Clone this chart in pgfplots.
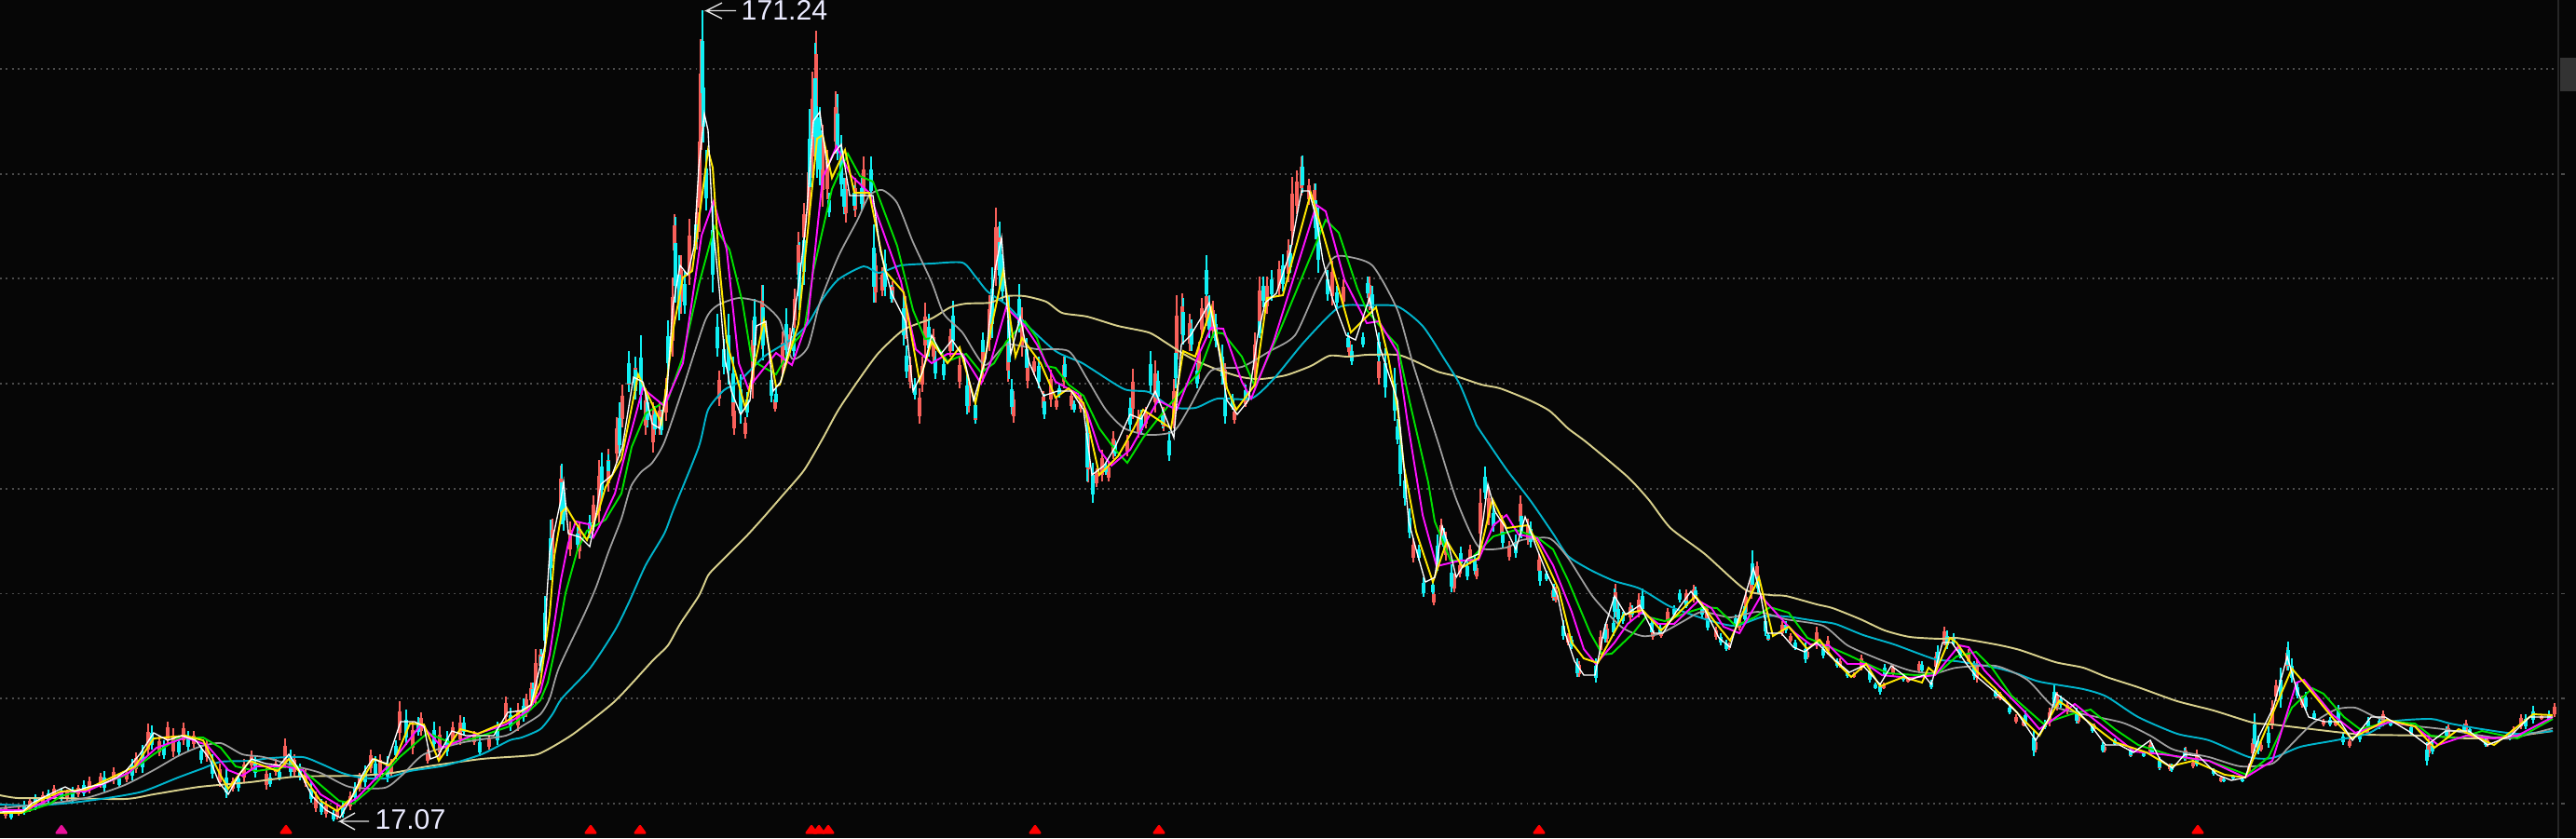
\documentclass[border=0pt]{standalone}
\usepackage{pgfplots}
\usepackage{pgfplotstable}
\usepackage{fontspec}
\setmainfont{Liberation Sans}
\pgfplotsset{compat=1.18}
\definecolor{bgc}{HTML}{060606}
\definecolor{kred}{HTML}{F8605A}
\definecolor{kcy}{HTML}{10F0F4}
\definecolor{mpale}{HTML}{D8D08C}
\definecolor{mteal}{HTML}{00B4CC}
\definecolor{mgray}{HTML}{A0A0A0}
\definecolor{mgreen}{HTML}{00E000}
\definecolor{mmag}{HTML}{FF10FF}
\definecolor{myel}{HTML}{FFE800}
\definecolor{griddot}{HTML}{4C4C4C}
\definecolor{kpink}{HTML}{E8109A}
\pgfplotstableread[row sep=\\]{x t b\\
6 864 879\\20 866 876\\32 856 872\\46 850 866\\58 843 858\\72 848 860\\84 843 856\\96 834 852\\108 830 846\\122 824 842\\136 826 840\\146 808 830\\159 777 812\\171 790 812\\180 775 800\\186 782 813\\197 776 800\\208 785 803\\222 795 818\\236 820 845\\250 835 850\\262 815 840\\270 806 826\\286 825 848\\296 815 833\\306 793 825\\316 810 834\\328 825 845\\339 850 872\\350 860 878\\362 865 880\\376 850 870\\386 830 850\\398 805 830\\408 810 835\\420 815 835\\429 753 795\\443 775 810\\452 765 790\\459 805 820\\472 780 815\\486 775 800\\494 768 800\\509 785 800\\525 790 805\\543 748 775\\556 755 785\\565 745 770\\570 733 757\\575 697 757\\580 697 720\\593 557 603\\602 500 557\\
612 560 597\\622 560 600\\637 532 570\\643 494 563\\653 482 528\\662 448 497\\668 413 459\\675 383 421\\682 385 425\\693 417 467\\701 432 486\\708 432 467\\715 406 452\\722 298 383\\724 230 279\\731 274 337\\740 235 306\\748 214 268\\751 119 249\\752 42 191\\772 398 436\\787 417 455\\788 432 467\\800 448 471\\808 344 428\\818 306 375\\832 425 442\\840 356 402\\848 352 379\\853 310 352\\857 249 306\\863 218 264\\868 168 237\\872 77 191\\876 33 134\\883 134 222\\888 161 214\\897 98 165\\908 191 239\\918 191 233\\927 168 222\\940 272 325\\947 287 318\\958 302 325\\972 318 364\\977 383 417\\987 417 455\\990 383 421\\993 325 383\\
1002 353 390\\1020 353 383\\1030 383 417\\1040 410 443\\1047 433 455\\1055 357 410\\1062 317 377\\1069 223 307\\1072 243 290\\1082 350 410\\1088 420 454\\1097 330 383\\1103 377 417\\1110 383 403\\1120 420 443\\1128 397 437\\1134 427 440\\1142 383 417\\1150 420 440\\1160 423 443\\1168 450 518\\1177 503 523\\1183 483 517\\1190 497 517\\1195 463 493\\1210 467 490\\1216 396 450\\1222 440 470\\1230 437 460\\1240 387 443\\1249 437 463\\1260 407 460\\1263 317 403\\1269 315 370\\1277 337 377\\1287 367 407\\1290 320 363\\1295 307 350\\1302 323 363\\1315 390 417\\1325 437 455\\1337 420 437\\1347 357 407\\1352 297 357\\1360 297 337\\1373 280 317\\1383 257 303\\1387 190 263\\1392 183 230\\1397 168 210\\1405 192 220\\1411 197 223\\1430 280 328\\1442 300 330\\1448 360 383\\1470 297 333\\1480 380 413\\1487 390 417\\1497 400 450\\
1517 578 604\\1528 623 641\\1539 634 650\\1547 557 585\\1552 571 602\\1561 616 636\\1567 602 620\\1578 585 606\\1585 606 622\\1589 525 585\\1598 525 564\\1612 553 578\\1620 581 602\\1632 532 567\\1640 557 585\\1652 595 617\\1667 630 645\\1670 630 647\\1683 680 693\\1695 710 727\\1713 717 730\\1718 677 703\\1725 670 690\\1734 627 663\\1750 647 667\\1759 637 663\\1774 673 687\\1783 677 685\\1790 653 670\\1810 633 650\\1818 628 647\\1832 650 667\\1842 673 687\\1856 690 698\\1867 660 677\\1874 633 663\\1880 617 643\\1886 603 623\\1898 683 688\\1913 667 683\\1922 680 690\\1940 697 708\\1950 673 697\\1962 683 703\\1975 707 717\\1990 722 728\\1998 703 720\\2022 733 740\\2032 713 727\\2048 727 733\\2060 710 723\\2078 700 720\\2087 673 693\\2103 693 703\\2122 707 733\\2143 743 750\\
2113 697 713\\2147 743 752\\2164 767 777\\2172 773 780\\2185 793 808\\2200 760 780\\2208 743 763\\2219 753 767\\2231 767 777\\2248 777 785\\2259 800 808\\2287 807 813\\2308 797 810\\2318 817 827\\2329 820 828\\2346 802 817\\2358 805 823\\2354 817 825\\2384 833 840\\2414 820 833\\2418 793 813\\2427 797 807\\2439 752 783\\2443 730 753\\2455 695 720\\2471 747 760\\2494 772 780\\2507 773 780\\2522 793 803\\2541 777 790\\2558 763 780\\2588 780 790\\2607 793 813\\2628 778 792\\2647 773 787\\2670 793 802\\2698 780 790\\2706 767 783\\2728 767 773\\2742 755 770\\
}\redtab
\pgfplotstableread[row sep=\\]{x t b\\
12 870 880\\26 860 875\\38 853 870\\52 848 862\\66 846 860\\78 845 862\\90 838 855\\112 828 850\\128 832 846\\142 815 838\\153 800 830\\163 779 805\\176 795 815\\192 790 812\\202 785 806\\216 800 820\\228 810 836\\243 825 857\\256 830 850\\274 812 835\\290 830 845\\300 825 838\\312 805 835\\322 820 838\\334 840 862\\345 858 875\\358 870 882\\368 860 878\\381 840 860\\392 822 845\\403 812 838\\416 812 840\\425 795 815\\436 762 800\\449 770 790\\466 775 805\\480 785 812\\498 770 790\\515 790 812\\534 775 800\\548 760 785\\562 750 775\\572 733 757\\581 697 723\\585 640 700\\591 558 623\\603 498 563\\
605 517 570\\620 566 590\\633 553 578\\646 486 536\\653 488 510\\665 432 490\\675 377 421\\682 383 429\\688 360 440\\695 421 459\\703 436 467\\710 440 467\\717 344 402\\725 233 325\\729 274 344\\735 291 337\\747 230 268\\754 11 122\\755 69 153\\758 161 226\\765 218 314\\770 337 383\\777 364 402\\782 337 413\\787 383 444\\795 402 455\\802 421 448\\810 321 383\\819 306 387\\828 398 432\\833 417 436\\844 331 387\\852 352 383\\858 260 333\\863 237 306\\869 117 222\\875 46 172\\877 98 191\\880 115 199\\890 207 233\\899 101 172\\903 145 211\\906 191 230\\917 199 226\\925 191 226\\935 168 214\\938 241 325\\950 268 318\\957 306 325\\970 314 371\\973 371 406\\982 406 429\\997 337 383\\
1004 377 407\\1013 383 408\\1023 323 377\\1038 400 445\\1047 427 455\\1055 357 383\\1065 287 363\\1073 238 310\\1076 273 323\\1083 317 407\\1086 407 445\\1094 305 357\\1102 363 403\\1115 383 417\\1121 423 450\\1137 413 427\\1143 383 410\\1153 430 443\\1167 443 517\\1173 497 540\\1187 497 510\\1197 473 490\\1213 427 463\\1225 440 467\\1235 377 423\\1243 398 433\\1248 440 460\\1255 463 495\\1262 363 417\\1270 320 370\\1279 343 377\\1285 390 417\\1295 274 327\\1298 317 363\\1305 337 373\\1312 370 413\\1315 417 455\\1323 423 440\\1337 413 433\\1352 337 363\\1356 297 330\\1365 290 323\\1377 273 313\\1385 263 293\\1398 167 207\\1412 197 257\\1415 223 293\\1425 290 323\\1435 307 330\\1447 357 377\\1451 370 392\\1463 357 373\\1468 297 320\\1473 307 337\\1480 357 390\\1487 374 427\\1497 395 452\\1500 450 477\\
1503 459 522\\1508 504 543\\1513 546 578\\1523 585 602\\1528 620 641\\1538 623 639\\1543 574 613\\1550 567 592\\1558 606 636\\1568 587 610\\1575 602 623\\1583 595 617\\1594 501 536\\1603 543 571\\1613 564 588\\1627 574 599\\1633 543 578\\1643 560 588\\1653 606 629\\1660 613 624\\1668 627 645\\1678 666 687\\1687 683 697\\1693 707 727\\1713 707 733\\1723 670 690\\1732 663 683\\1733 632 663\\1737 647 670\\1742 657 670\\1752 650 663\\1763 632 660\\1773 663 683\\1782 670 683\\1797 650 663\\1803 633 647\\1810 642 653\\1820 630 643\\1827 647 663\\1833 660 677\\1847 680 693\\1853 687 699\\1863 660 673\\1873 643 670\\1881 591 637\\1887 613 637\\1895 660 683\\1898 680 688\\1917 667 680\\1927 687 698\\1938 690 712\\1957 693 707\\1972 707 717\\1983 720 728\\2007 717 733\\2013 733 740\\2018 733 746\\2023 713 727\\2043 723 732\\2063 710 723\\2073 730 740\\2080 693 717\\2090 677 697\\2097 680 693\\
2104 693 707\\2119 710 730\\2142 740 750\\2157 757 767\\2174 763 780\\2183 783 812\\2195 773 783\\2205 735 760\\2212 747 760\\2229 760 777\\2246 777 787\\2257 797 808\\2270 793 800\\2287 803 813\\2301 807 813\\2310 798 810\\2318 813 827\\2331 820 829\\2345 803 817\\2358 812 823\\2376 825 833\\2387 835 840\\2397 832 837\\2407 835 840\\2420 766 807\\2424 790 810\\2435 780 803\\2448 717 760\\2456 689 720\\2460 707 733\\2466 733 750\\2475 743 763\\2484 763 773\\2501 770 780\\2510 757 777\\2515 787 800\\2533 783 797\\2542 770 783\\2554 770 783\\2566 773 780\\2588 777 790\\2605 797 822\\2611 797 810\\2626 780 793\\2645 777 787\\2651 780 790\\2668 793 802\\2694 787 795\\2711 767 783\\2719 758 777\\2736 763 775\\
}\cytab
\begin{document}
\begin{tikzpicture}[x=1cm,y=1cm]
\clip (0,0) rectangle (27.65,9);
\fill[bgc] (0,0) rectangle (27.65,9);
\begin{axis}[at={(0,0)},anchor=south west,scale only axis,width=27.65cm,height=9cm,
  xmin=0,xmax=2765,ymin=0,ymax=900,y dir=reverse,hide axis,clip=true,
  every axis plot/.append style={forget plot}]
% dotted price levels
\foreach \g in {74,186.7,299.4,412,524.8,637.5,750.2,862.9}{
  \edef\tmp{\noexpand\addplot[griddot,line width=0.55pt,dash pattern=on 0.55pt off 1.25pt] coordinates {(0,\g)(2741,\g)};}\tmp}
% frame at the right
\addplot[color=black!85!white,line width=0.6pt] coordinates {(2746,0)(2746,900)};
\addplot[color=griddot,line width=0.5pt] coordinates {(2749,186.7)(2753,186.7)};
\addplot[color=griddot,line width=0.5pt] coordinates {(2749,637.5)(2753,637.5)};
\addplot[color=griddot,line width=0.5pt] coordinates {(2749,750.2)(2753,750.2)};
\addplot[color=griddot,line width=0.5pt] coordinates {(2749,862.9)(2753,862.9)};
\addplot[draw=none,fill=black!80!white,fill opacity=1] coordinates {(2748,62)(2765,62)(2765,98)(2748,98)} --cycle;
% sticks
\addplot[draw=none,mark=none,error bars/.cd,y dir=plus,y explicit,error mark=none,
  error bar style={color=kred,line width=0.6pt}] table[x=x,y=t,y error expr=\thisrow{b}-\thisrow{t}] {\redtab};
\addplot[draw=none,mark=none,error bars/.cd,y dir=plus,y explicit,error mark=none,
  error bar style={color=kcy,line width=0.6pt}] table[x=x,y=t,y error expr=\thisrow{b}-\thisrow{t}] {\cytab};
% bodies
\addplot[draw=none,mark=none,error bars/.cd,y dir=plus,y explicit,error mark=none,
  error bar style={color=kred,line width=1.15pt}] table[x=x,y expr=\thisrow{t}+0.25*(\thisrow{b}-\thisrow{t}),y error expr=0.55*(\thisrow{b}-\thisrow{t})] {\redtab};
\addplot[draw=none,mark=none,error bars/.cd,y dir=plus,y explicit,error mark=none,
  error bar style={color=kcy,line width=1.15pt}] table[x=x,y expr=\thisrow{t}+0.3*(\thisrow{b}-\thisrow{t}),y error expr=0.5*(\thisrow{b}-\thisrow{t})] {\cytab};
% long average
\addplot[mpale,line width=0.55pt,smooth,tension=0.4] coordinates {(0,854)(19,857)(57,857)(134,858)(165,853)(214,845)(268,840)(318,834)(383,833)(421,830)(459,823)(517,815)(560,812)(577,810)(593,802)(617,787)(660,753)(700,710)(717,693)(730,670)(750,640)(760,618)(770,607)(800,577)(820,555)(840,532)(863,505)(883,471)(900,440)(923,406)(943,379)(970,354)(1000,342)(1020,330)(1037,326)(1063,325)(1080,318)(1100,318)(1123,324)(1140,336)(1167,340)(1200,350)(1233,357)(1250,367)(1267,378)(1283,387)(1307,397)(1333,405)(1353,407)(1380,403)(1407,393)(1427,382)(1447,383)(1467,381)(1500,381)(1517,387)(1543,399)(1563,404)(1590,413)(1610,417)(1640,429)(1663,441)(1683,460)(1703,475)(1747,512)(1770,537)(1793,567)(1830,595)(1873,633)(1900,639)(1917,640)(1950,649)(1967,653)(1997,665)(2023,677)(2050,684)(2083,686)(2100,685)(2142,692)(2168,698)(2206,711)(2236,717)(2261,727)(2295,738)(2337,753)(2376,763)(2418,776)(2439,778)(2473,782)(2516,787)(2541,789)(2600,790)(2651,793)(2694,791)(2740,785)};
% teal average
\addplot[mteal,line width=0.55pt,smooth,tension=0.4] coordinates {(0,864)(38,865)(77,862)(115,857)(153,850)(191,835)(218,825)(237,818)(268,817)(291,814)(325,813)(344,820)(367,830)(387,835)(413,836)(440,828)(478,822)(517,810)(547,795)(560,792)(580,783)(593,767)(603,750)(633,718)(660,677)(675,647)(693,607)(713,573)(723,547)(750,480)(760,440)(777,419)(793,410)(820,383)(850,364)(867,348)(883,321)(900,300)(927,286)(943,293)(967,285)(1000,283)(1033,282)(1047,297)(1060,313)(1080,327)(1100,347)(1133,377)(1160,389)(1173,397)(1207,418)(1233,421)(1257,437)(1283,438)(1307,428)(1343,428)(1367,407)(1400,367)(1437,330)(1467,328)(1500,329)(1527,350)(1550,385)(1567,413)(1583,452)(1587,460)(1617,504)(1643,538)(1667,573)(1683,597)(1707,612)(1733,624)(1760,632)(1790,650)(1810,658)(1837,667)(1863,672)(1893,662)(1917,662)(1950,667)(1970,670)(2000,682)(2033,692)(2077,708)(2100,710)(2142,717)(2164,723)(2189,732)(2236,740)(2261,748)(2295,770)(2337,788)(2371,795)(2414,813)(2439,814)(2469,802)(2507,795)(2541,788)(2566,775)(2609,772)(2630,777)(2664,783)(2702,788)(2740,785)};
% gray average
\addplot[mgray,line width=0.5pt,smooth,tension=0.4] coordinates {(0,868)(60,862)(96,856)(134,843)(165,827)(191,812)(214,802)(237,798)(260,810)(283,813)(318,823)(344,830)(375,845)(413,846)(432,832)(455,810)(498,797)(543,790)(560,780)(580,767)(590,750)(600,717)(627,660)(640,630)(653,593)(667,557)(677,523)(688,507)(700,497)(713,475)(733,417)(757,344)(770,328)(793,320)(817,325)(837,344)(850,385)(867,373)(880,325)(900,275)(920,237)(933,210)(947,204)(963,218)(980,260)(1000,303)(1013,337)(1033,357)(1057,392)(1080,370)(1113,375)(1147,377)(1167,407)(1187,440)(1207,460)(1233,467)(1260,463)(1277,437)(1300,398)(1333,394)(1363,377)(1390,360)(1413,310)(1430,278)(1443,275)(1473,285)(1500,333)(1517,392)(1543,473)(1563,536)(1587,587)(1617,588)(1633,580)(1663,578)(1683,599)(1710,641)(1740,673)(1763,683)(1783,680)(1807,667)(1827,657)(1857,663)(1887,657)(1917,665)(1957,672)(1983,693)(2017,708)(2050,720)(2077,723)(2100,717)(2142,715)(2176,730)(2202,757)(2227,765)(2278,776)(2308,790)(2333,805)(2371,813)(2405,823)(2439,820)(2456,803)(2482,777)(2507,762)(2528,760)(2550,770)(2579,778)(2622,783)(2664,790)(2694,793)(2740,782)};
% green average
\addplot[mgreen,line width=0.55pt] coordinates {(0,873)(27,872)(54,863)(65,855)(92,848)(134,833)(165,810)(191,793)(218,792)(237,803)(253,823)(275,828)(318,822)(337,837)(364,860)(379,863)(398,847)(429,813)(459,787)(482,797)(509,793)(547,780)(563,768)(580,752)(588,733)(600,677)(607,637)(620,590)(630,570)(650,558)(667,530)(678,480)(693,444)(717,429)(733,383)(750,306)(767,243)(783,268)(797,325)(807,387)(833,402)(853,367)(863,356)(873,291)(893,203)(910,165)(923,189)(937,195)(963,264)(980,333)(993,364)(1000,363)(1017,388)(1037,380)(1053,400)(1067,390)(1080,367)(1100,345)(1113,363)(1123,393)(1133,395)(1147,413)(1163,425)(1180,460)(1197,483)(1210,497)(1227,470)(1253,437)(1287,400)(1303,357)(1313,358)(1333,383)(1347,415)(1373,357)(1423,236)(1437,250)(1457,310)(1467,333)(1487,357)(1500,371)(1513,431)(1533,518)(1540,560)(1557,602)(1577,602)(1603,576)(1627,569)(1650,577)(1667,590)(1683,623)(1707,680)(1720,703)(1730,702)(1753,680)(1767,662)(1787,667)(1810,658)(1830,652)(1843,653)(1863,672)(1883,663)(1900,652)(1920,658)(1940,685)(1960,693)(1983,703)(2013,717)(2027,723)(2057,725)(2080,723)(2100,705)(2121,700)(2138,717)(2159,747)(2193,777)(2223,767)(2244,762)(2270,783)(2295,800)(2337,813)(2371,817)(2412,832)(2435,813)(2460,760)(2482,739)(2494,745)(2516,770)(2533,783)(2566,775)(2592,777)(2609,790)(2639,793)(2664,785)(2702,793)(2740,772)};
% magenta average
\addplot[mmag,line width=0.55pt] coordinates {(0,870)(27,870)(50,860)(69,850)(92,850)(138,830)(168,803)(199,792)(222,800)(245,827)(260,833)(275,823)(306,823)(325,827)(344,853)(367,867)(383,857)(421,818)(452,778)(475,803)(509,789)(543,778)(567,763)(580,743)(590,703)(602,623)(610,583)(618,560)(632,563)(637,577)(647,558)(660,530)(673,480)(690,417)(713,436)(733,390)(753,253)(766,216)(780,268)(793,390)(803,417)(833,379)(850,392)(867,344)(883,191)(898,157)(913,188)(933,207)(967,302)(983,375)(1000,390)(1017,380)(1033,380)(1053,412)(1063,390)(1080,330)(1100,350)(1113,370)(1133,410)(1157,423)(1167,443)(1180,483)(1193,500)(1213,483)(1243,430)(1263,440)(1287,380)(1300,352)(1313,353)(1333,410)(1343,428)(1367,367)(1413,220)(1423,227)(1443,300)(1467,347)(1480,345)(1500,378)(1510,448)(1527,553)(1542,608)(1567,602)(1587,601)(1603,564)(1617,553)(1630,574)(1650,578)(1667,607)(1687,657)(1700,697)(1713,713)(1733,690)(1747,670)(1763,657)(1780,670)(1797,670)(1823,645)(1837,653)(1850,673)(1867,680)(1890,640)(1917,670)(1927,680)(1943,692)(1963,693)(1983,713)(2003,713)(2020,725)(2050,728)(2077,725)(2103,693)(2113,695)(2130,720)(2147,738)(2172,763)(2189,783)(2227,756)(2257,780)(2291,807)(2321,810)(2371,817)(2410,835)(2439,817)(2465,733)(2473,730)(2503,767)(2528,787)(2566,775)(2592,780)(2617,800)(2647,790)(2677,793)(2702,790)(2740,770)};
% yellow average
\addplot[myel,line width=0.55pt] coordinates {(0,873)(23,873)(42,860)(65,850)(92,848)(126,832)(145,823)(165,793)(199,790)(218,795)(237,833)(245,847)(268,817)(298,828)(310,815)(325,833)(344,860)(362,871)(377,857)(402,815)(417,822)(425,813)(440,777)(455,778)(471,817)(494,783)(513,788)(543,775)(570,757)(580,733)(590,660)(595,597)(603,550)(608,545)(617,560)(630,580)(643,547)(650,523)(667,493)(685,402)(710,455)(723,352)(733,298)(743,291)(760,161)(765,180)(772,283)(780,367)(800,438)(820,344)(833,415)(837,413)(857,348)(877,149)(883,145)(893,191)(907,161)(917,207)(933,207)(950,291)(970,314)(987,409)(1000,367)(1017,390)(1030,373)(1047,433)(1077,290)(1090,383)(1097,363)(1117,390)(1133,427)(1147,417)(1163,433)(1180,510)(1200,490)(1217,460)(1227,440)(1257,460)(1270,377)(1283,383)(1300,330)(1317,417)(1327,440)(1347,413)(1360,320)(1377,317)(1407,207)(1420,250)(1450,357)(1477,330)(1490,383)(1500,438)(1507,501)(1520,571)(1538,625)(1553,581)(1570,609)(1587,599)(1602,536)(1617,567)(1640,564)(1650,583)(1673,633)(1687,690)(1700,707)(1715,712)(1743,660)(1763,655)(1783,677)(1820,640)(1840,667)(1857,688)(1888,620)(1903,683)(1920,673)(1940,697)(1953,687)(1970,710)(1987,727)(2003,713)(2018,737)(2043,727)(2063,733)(2070,717)(2077,723)(2093,685)(2100,690)(2121,720)(2142,740)(2172,773)(2189,790)(2210,753)(2231,767)(2270,797)(2304,808)(2329,823)(2354,817)(2388,832)(2410,835)(2460,718)(2473,733)(2503,770)(2524,793)(2562,773)(2592,780)(2613,803)(2639,783)(2677,800)(2719,767)(2740,768)};
% white average
\addplot[white,line width=0.38pt] coordinates {(0,872)(25,871)(35,862)(55,852)(70,845)(80,850)(95,845)(110,842)(125,835)(135,828)(150,810)(165,787)(180,795)(195,790)(210,795)(225,815)(235,840)(245,853)(258,830)(270,815)(285,820)(300,822)(310,810)(320,825)(335,855)(350,870)(365,878)(378,855)(390,830)(400,815)(415,820)(430,775)(445,775)(455,780)(462,815)(470,812)(485,785)(500,790)(515,790)(530,790)(545,765)(560,763)(570,757)(585,693)(587,640)(590,593)(595,570)(602,537)(605,517)(610,573)(623,577)(633,587)(638,563)(645,520)(657,510)(668,480)(680,405)(690,410)(700,455)(708,460)(716,420)(722,330)(730,285)(738,295)(745,265)(750,180)(756,122)(760,140)(765,240)(772,310)(778,385)(785,420)(795,445)(805,430)(812,350)(822,345)(830,420)(838,410)(848,370)(858,300)(865,240)(873,130)(880,120)(888,180)(895,165)(903,155)(912,210)(925,210)(937,210)(945,270)(957,315)(972,345)(980,420)(990,400)(1000,360)(1010,380)(1022,365)(1035,385)(1045,430)(1058,385)(1068,290)(1075,255)(1085,380)(1095,340)(1105,390)(1120,425)(1135,420)(1150,420)(1163,440)(1172,510)(1185,500)(1197,480)(1213,445)(1225,450)(1240,420)(1250,445)(1260,470)(1268,370)(1278,360)(1290,340)(1298,325)(1307,370)(1317,430)(1328,445)(1340,430)(1350,360)(1358,325)(1370,315)(1385,270)(1397,205)(1405,205)(1413,235)(1420,280)(1430,320)(1445,360)(1455,365)(1470,320)(1480,370)(1490,400)(1500,430)(1505,480)(1512,560)(1520,590)(1530,625)(1540,620)(1548,565)(1556,590)(1563,620)(1575,600)(1587,595)(1597,520)(1605,550)(1615,565)(1627,590)(1637,555)(1650,590)(1660,615)(1672,640)(1680,680)(1690,710)(1700,725)(1712,725)(1722,675)(1733,640)(1745,660)(1760,650)(1775,680)(1785,680)(1797,660)(1815,635)(1830,655)(1845,685)(1857,695)(1870,650)(1882,610)(1890,640)(1897,680)(1912,680)(1925,695)(1937,700)(1950,690)(1965,705)(1985,722)(2000,715)(2018,735)(2030,715)(2050,730)(2065,725)(2073,735)(2085,690)(2095,690)(2110,712)(2120,725)(2140,742)(2165,765)(2185,795)(2200,770)(2207,745)(2225,758)(2245,780)(2260,800)(2275,800)(2290,808)(2308,795)(2318,815)(2332,825)(2345,810)(2360,812)(2380,832)(2395,838)(2410,835)(2425,790)(2440,760)(2455,705)(2465,740)(2478,770)(2495,775)(2512,775)(2525,795)(2545,770)(2560,770)(2585,785)(2605,800)(2625,785)(2650,785)(2670,800)(2695,790)(2715,770)(2740,770)};
% signal marks at the foot
\addplot[only marks,mark=triangle*,mark size=1.75pt,color=red,mark options={yscale=0.8,line join=round,line width=0.7pt}] coordinates {(307,892)(634,892)(687,892)(871,892)(879,892)(889,892)(1111,892)(1244,892)(1652,892)(2359,892)};
\addplot[only marks,mark=*,mark size=1.8pt,color=red] coordinates {(307,903)(634,903)(687,903)(871,903)(879,903)(889,903)(1111,903)(1244,903)(1652,903)(2359,903)};
\addplot[only marks,mark=triangle*,mark size=1.75pt,color=kpink,mark options={yscale=0.8,line join=round,line width=0.7pt}] coordinates {(66,892)};
\addplot[only marks,mark=*,mark size=1.8pt,color=kpink] coordinates {(66,903)};
% extreme labels
\draw[white!90!black,line width=0.4pt] (axis cs:790,11.5)--(axis cs:758,11.5)--(axis cs:775,3) (axis cs:758,11.5)--(axis cs:775,20);
\node[anchor=west,inner sep=0pt,text=white!92!blue,font=\fontsize{8.6pt}{9pt}\selectfont] at (axis cs:795,11) {171.24};
\draw[white!90!black,line width=0.4pt] (axis cs:396,882)--(axis cs:365,882)--(axis cs:381,873) (axis cs:365,882)--(axis cs:381,891);
\node[anchor=west,inner sep=0pt,text=white!92!blue,font=\fontsize{8.6pt}{9pt}\selectfont] at (axis cs:402,880) {17.07};
\end{axis}
\end{tikzpicture}
\end{document}
